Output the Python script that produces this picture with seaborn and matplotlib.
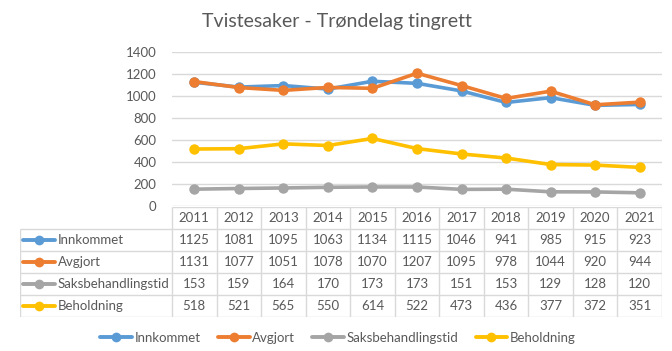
import matplotlib
matplotlib.use("Agg")
import matplotlib.pyplot as plt
import seaborn as sns
import pandas as pd
from matplotlib.lines import Line2D

years = [2011, 2012, 2013, 2014, 2015, 2016, 2017, 2018, 2019, 2020, 2021]
series_names = ["Innkommet", "Avgjort", "Saksbehandlingstid", "Beholdning"]
innkommet = [1125, 1081, 1095, 1063, 1134, 1115, 1046, 941, 985, 915, 923]
avgjort = [1131, 1077, 1051, 1078, 1070, 1207, 1095, 978, 1044, 920, 944]
saksbehandlingstid = [153, 159, 164, 170, 173, 173, 151, 153, 129, 128, 120]
beholdning = [518, 521, 565, 550, 614, 522, 473, 436, 377, 372, 351]
y_ticks = [0, 200, 400, 600, 800, 1000, 1200, 1400]
title = "Tvistesaker - Trøndelag tingrett"

colors = ["#5B9BD5", "#ED7D31", "#A5A5A5", "#FFC000"]
values = [innkommet, avgjort, saksbehandlingstid, beholdning]

df = pd.DataFrame({
    "År": years * 4,
    "Verdi": innkommet + avgjort + saksbehandlingstid + beholdning,
    "Serie": sum([[n] * len(years) for n in series_names], []),
})

sns.set_theme(style="white")
plt.rcParams["font.family"] = ["Lato", "DejaVu Sans"]
TXT = "#595959"
GRID = "#D9D9D9"

W, H = 672, 351
fig = plt.figure(figsize=(W / 100, H / 100), dpi=100)

# plot area
x0, x1 = 172, 662
ytop, ybot = 52, 206
ax = fig.add_axes([x0 / W, (H - ybot) / H, (x1 - x0) / W, (ybot - ytop) / H])
sns.lineplot(data=df, x="År", y="Verdi", hue="Serie", palette=colors,
             marker="o", markersize=7.5, markeredgewidth=0, linewidth=2.6,
             ax=ax, legend=False, sort=False)
ax.set_xlim(years[0] - 0.5, years[-1] + 0.5)
ax.set_ylim(0, 1400)
ax.set_yticks(y_ticks)
ax.set_yticklabels([str(t) for t in y_ticks], color=TXT, fontsize=9.5)
ax.set_xticks([])
ax.set_xlabel("")
ax.set_ylabel("")
ax.yaxis.grid(True, color=GRID, linewidth=1)
ax.set_axisbelow(True)
for s in ax.spines.values():
    s.set_visible(False)
ax.tick_params(axis="y", length=0, pad=11)

fig.text(337 / W, 1 - 21 / H, title, ha="center", va="center",
         fontsize=14, color=TXT)

# data table
tleft, tright, ttop, tbottom = 20, 662, 206.5, 317
col_w = (x1 - x0) / len(years)
tab = fig.add_axes([tleft / W, (H - tbottom) / H, (tright - tleft) / W, (tbottom - ttop) / H])
label_w = (x0 - tleft) / col_w
left_x = years[0] - 0.5 - label_w
right_x = years[-1] + 0.5
tab.set_xlim(left_x, right_x)
tab.set_ylim(5, 0)
tab.axis("off")
lkw = dict(color=GRID, linewidth=1, solid_capstyle="butt")
# horizontal lines
tab.plot([years[0] - 0.5, right_x], [0, 0], **lkw)
for r in range(1, 6):
    tab.plot([left_x, right_x], [r, r], **lkw)
# vertical lines
tab.plot([left_x, left_x], [1, 5], **lkw)
for i in range(len(years) + 1):
    xv = years[0] - 0.5 + i
    tab.plot([xv, xv], [0, 5], **lkw)
for yr in years:
    tab.text(yr, 0.5, str(yr), ha="center", va="center", fontsize=9.5, color=TXT)
px = 1 / col_w
for r, (name, vals, c) in enumerate(zip(series_names, values, colors)):
    yc = r + 1.5
    tab.plot([left_x + 3 * px, left_x + 35 * px], [yc, yc], color=c, linewidth=2.8,
             solid_capstyle="round")
    tab.plot([left_x + 19 * px], [yc], marker="o", color=c, markersize=7, markeredgewidth=0)
    tab.text(left_x + 38 * px, yc, name, ha="left", va="center", fontsize=9.5, color=TXT)
    for yr, v in zip(years, vals):
        tab.text(yr, yc, str(v), ha="center", va="center", fontsize=9.5, color=TXT)

# legend
handles = [Line2D([0], [0], color=c, linewidth=2.8, marker="o", markersize=7,
                  markeredgewidth=0) for c in colors]
fig.legend(handles, series_names, loc="center", bbox_to_anchor=(338 / W, 1 - 338 / H),
           ncol=4, frameon=False, fontsize=9.5, handlelength=2.4, handletextpad=0.2,
           columnspacing=1.3, labelcolor=TXT)

fig.savefig("out.png", dpi=100, facecolor="white")
